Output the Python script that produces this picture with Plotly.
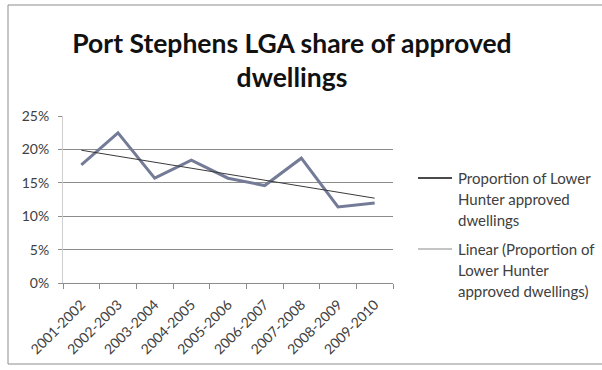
import numpy as np
import plotly.graph_objects as go

# Financial years and Port Stephens share of Lower Hunter approved dwellings
years = ["2001-2002", "2002-2003", "2003-2004", "2004-2005", "2005-2006",
         "2006-2007", "2007-2008", "2008-2009", "2009-2010"]
share = [0.177, 0.225, 0.157, 0.184, 0.157, 0.146, 0.187, 0.114, 0.120]

series_lines = ["Proportion of Lower", "Hunter approved", "dwellings"]
trend_lines = ["Linear (Proportion of", "Lower Hunter", "approved dwellings)"]

# Least-squares linear trend over the category index
idx = np.arange(len(share))
slope, intercept = np.polyfit(idx, share, 1)
trend = slope * idx + intercept

FONT = "Lato"
GRID = "#8c8c8c"
TEXT = "#404040"

# Pixel layout of the plotting area (used for the frame and key placement)
W, H = 602, 370
L, R, T, B = 63, 209, 116, 87
PW, PH = W - L - R, H - T - B


def px_x(px):
    return (px - L) / PW


def px_y(py):
    return (H - B - py) / PH


fig = go.Figure()
fig.add_trace(go.Scatter(
    x=years, y=share, mode="lines", name=" ".join(series_lines),
    line=dict(color="#747b97", width=3), showlegend=False,
))
fig.add_trace(go.Scatter(
    x=years, y=trend, mode="lines", name=" ".join(trend_lines),
    line=dict(color="#3a3a3a", width=1), showlegend=False,
))

# Key on the right: a sample line and three text rows per entry
shapes = [dict(
    type="rect", xref="paper", yref="paper",
    x0=px_x(8), x1=px_x(610), y0=px_y(364), y1=px_y(5),
    line=dict(color="#8c8c8c", width=1), fillcolor="rgba(0,0,0,0)",
    layer="below",
)]
annotations = []
key_entries = [
    (series_lines, 178, dict(color="#4a4a4a", width=2)),
    (trend_lines, 249, dict(color="#8a8a8a", width=1)),
]
for rows, top, sample in key_entries:
    shapes.append(dict(
        type="line", xref="paper", yref="paper",
        x0=px_x(418), x1=px_x(452), y0=px_y(top), y1=px_y(top),
        line=sample,
    ))
    for i, row in enumerate(rows):
        annotations.append(dict(
            text=row, xref="paper", yref="paper",
            x=px_x(456), y=px_y(top + 21 * i),
            xanchor="left", yanchor="middle", showarrow=False,
            font=dict(family=FONT, size=15, color=TEXT),
        ))

fig.update_layout(
    width=W, height=H,
    margin=dict(l=L, r=R, t=T, b=B),
    paper_bgcolor="white", plot_bgcolor="white",
    font=dict(family=FONT, size=14, color=TEXT),
    title=dict(
        text="Port Stephens LGA share of approved<br>dwellings",
        font=dict(family=FONT, size=26.5, color="#111111", weight="bold"),
        x=0.485, xanchor="center", xref="container",
        y=0.858, yanchor="top", yref="container",
    ),
    showlegend=False,
    shapes=shapes,
    annotations=annotations,
)

fig.update_xaxes(
    type="category", range=[-0.5, len(years) - 0.5],
    tickson="boundaries", ticks="outside", ticklen=5, tickcolor=GRID,
    showline=True, linecolor=GRID, linewidth=1,
    showgrid=False, tickangle=-45, ticklabelstandoff=7,
    tickfont=dict(family=FONT, size=14, color=TEXT),
)
fig.update_yaxes(
    range=[0, 0.2502], dtick=0.05, tickformat=".0%",
    showgrid=True, gridcolor=GRID, gridwidth=1,
    ticks="outside", ticklen=4, tickcolor=GRID, ticklabelstandoff=6,
    showline=True, linecolor="#cfcfcf", linewidth=1, zeroline=False,
    tickfont=dict(family=FONT, size=14, color=TEXT),
)

fig.write_html("out.html")
